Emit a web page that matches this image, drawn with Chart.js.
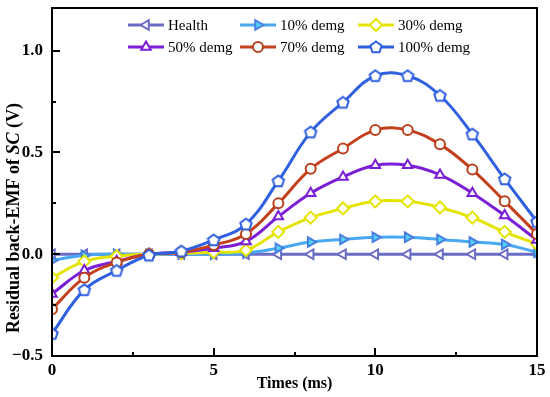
<!DOCTYPE html>
<html>
<head>
<meta charset="utf-8">
<script src="https://cdn.jsdelivr.net/npm/chart.js@4/dist/chart.umd.min.js"></script>
<style>
  html, body { margin: 0; padding: 0; background: #fff; }
  #wrap { width: 550px; height: 397px; }
</style>
</head>
<body>
<div id="wrap"><canvas id="emfChart" width="550" height="397"></canvas></div>
<script>
// data
const times = [0, 1, 2, 3, 4, 5, 6, 7, 8, 9, 10, 11, 12, 13, 14, 15];
const health = [0, 0, 0, 0, 0, 0, 0, 0, 0, 0, 0, 0, 0, 0, 0, 0];
const demg10 = [-0.03, -0.005, 0, 0, 0, 0, 0.005, 0.03, 0.06, 0.073, 0.083, 0.083, 0.073, 0.06, 0.048, 0.01];
const demg30 = [-0.115, -0.035, -0.01, 0, 0.005, 0.01, 0.02, 0.11, 0.18, 0.225, 0.26, 0.26, 0.23, 0.18, 0.11, 0.05];
const demg50 = [-0.195, -0.08, -0.035, 0, 0.01, 0.03, 0.063, 0.185, 0.30, 0.38, 0.437, 0.437, 0.39, 0.30, 0.19, 0.07];
const demg70 = [-0.27, -0.115, -0.04, 0, 0.01, 0.045, 0.10, 0.25, 0.42, 0.52, 0.61, 0.61, 0.54, 0.416, 0.26, 0.10];
const demg100 = [-0.39, -0.175, -0.08, -0.005, 0.015, 0.07, 0.148, 0.36, 0.60, 0.746, 0.877, 0.877, 0.78, 0.59, 0.37, 0.16];
const seriesNames = ['Health', '10% demg', '30% demg', '50% demg', '70% demg', '100% demg'];
const xTicks = [0, 5, 10, 15];
const xMinorTicks = [2.5, 7.5, 12.5];
const yTicks = [-0.5, 0, 0.5, 1.0];
const yMinorTicks = [-0.25, 0.25, 0.75];

const serif = '"Liberation Serif", "Times New Roman", serif';

function makePentagon(color) {
    const c = document.createElement('canvas');
    c.width = 16;
    c.height = 16;
    const g = c.getContext('2d');
    g.beginPath();
    for (let i = 0; i < 5; i++) {
        const a = -Math.PI / 2 + i * 2 * Math.PI / 5;
        g.lineTo(8 + 6 * Math.cos(a), 8.5 + 6 * Math.sin(a));
    }
    g.closePath();
    g.fillStyle = '#fff';
    g.fill();
    g.lineWidth = 2;
    g.strokeStyle = color;
    g.stroke();
    return c;
}

function series(label, values, color, style, extra) {
    return Object.assign({
        label: label,
        data: values.map((v, i) => ({ x: times[i], y: v })),
        borderColor: color,
        borderWidth: 3,
        tension: 0.4,
        pointStyle: style,
        pointRadius: 5.5,
        pointBorderWidth: 2,
        pointBorderColor: color,
        pointBackgroundColor: '#fff'
    }, extra || {});
}

const datasets = [
    series(seriesNames[0], health, '#6a6cc4', 'triangle', { pointRotation: -90, order: 5 }),
    series(seriesNames[1], demg10, '#48a8f2', 'triangle', { pointRotation: 90, pointBorderColor: '#4a7fe0', pointBackgroundColor: '#52d2f4', order: 4 }),
    series(seriesNames[2], demg30, '#e4e400', 'rectRot', { pointRadius: 6, order: 3 }),
    series(seriesNames[3], demg50, '#7b1fd6', 'triangle', { order: 2 }),
    series(seriesNames[4], demg70, '#c4401c', 'circle', { pointRadius: 5, pointBorderColor: '#b8401c', order: 1 }),
    series(seriesNames[5], demg100, '#2f60e0', makePentagon('#2f60e0'), { order: 0 })
];

// frame, inward ticks, legend and y title
const decorPlugin = {
    id: 'decor',
    afterDraw(chart) {
        const ctx = chart.ctx;
        const a = chart.chartArea;
        const xs = chart.scales.x;
        const ys = chart.scales.y;
        ctx.save();
        ctx.strokeStyle = '#000';
        ctx.lineWidth = 2;
        ctx.strokeRect(a.left, a.top, a.right - a.left, a.bottom - a.top);
        ctx.beginPath();
        xTicks.forEach(v => { const p = Math.round(xs.getPixelForValue(v)); ctx.moveTo(p, a.bottom); ctx.lineTo(p, a.bottom - 8); });
        xMinorTicks.forEach(v => { const p = Math.round(xs.getPixelForValue(v)); ctx.moveTo(p, a.bottom); ctx.lineTo(p, a.bottom - 4); });
        yTicks.forEach(v => { const p = Math.round(ys.getPixelForValue(v)); ctx.moveTo(a.left, p); ctx.lineTo(a.left + 8, p); });
        yMinorTicks.forEach(v => { const p = Math.round(ys.getPixelForValue(v)); ctx.moveTo(a.left, p); ctx.lineTo(a.left + 4, p); });
        ctx.stroke();

        // legend
        const cols = [128, 240, 358];
        const rows = [25, 47];
        ctx.font = '15px ' + serif;
        ctx.textBaseline = 'middle';
        ctx.textAlign = 'left';
        chart.data.datasets.forEach((ds, i) => {
            const x = cols[i % 3];
            const y = rows[Math.floor(i / 3)];
            ctx.strokeStyle = ds.borderColor;
            ctx.lineWidth = 3;
            ctx.beginPath();
            ctx.moveTo(x, y);
            ctx.lineTo(x + 36, y);
            ctx.stroke();
            ctx.fillStyle = ds.pointBackgroundColor;
            ctx.strokeStyle = ds.pointBorderColor;
            ctx.lineWidth = 2;
            Chart.helpers.drawPoint(ctx, {
                pointStyle: ds.pointStyle,
                rotation: ds.pointRotation || 0,
                radius: ds.pointRadius,
                borderWidth: 2
            }, x + 18, y);
            ctx.fillStyle = '#000';
            ctx.fillText(ds.label, x + 40, y + 1);
        });

        // y axis title with italic SC
        const parts = [
            ['bold 18px ' + serif, 'Residual back-EMF of '],
            ['italic bold 18px ' + serif, 'SC'],
            ['bold 18px ' + serif, ' (V)']
        ];
        let total = 0;
        ctx.textBaseline = 'alphabetic';
        parts.forEach(p => { ctx.font = p[0]; total += ctx.measureText(p[1]).width; });
        ctx.translate(19, 218);
        ctx.rotate(-Math.PI / 2);
        let cx = -total / 2;
        ctx.fillStyle = '#000';
        parts.forEach(p => { ctx.font = p[0]; ctx.fillText(p[1], cx, 0); cx += ctx.measureText(p[1]).width; });
        ctx.restore();
    }
};

function drawChart() {
    const ctx = document.getElementById('emfChart');
    new Chart(ctx, {
        type: 'line',
        data: { datasets: datasets },
        options: {
            responsive: false,
            animation: false,
            layout: { padding: { top: 5, right: 13, left: 0, bottom: 0 } },
            plugins: { legend: { display: false }, tooltip: { enabled: false } },
            scales: {
                x: {
                    type: 'linear',
                    min: 0,
                    max: 15,
                    grid: { display: false, drawTicks: false },
                    border: { display: false },
                    afterBuildTicks: s => { s.ticks = xTicks.map(v => ({ value: v })); },
                    afterFit: s => { s.height = 41; s.paddingLeft = 0; s.paddingRight = 0; },
                    ticks: { color: '#000', padding: 4, font: { family: serif, size: 17, weight: 'bold' } },
                    title: { display: true, text: 'Times (ms)', color: '#000', padding: { top: 0, bottom: 4 }, font: { family: serif, size: 16, weight: 'bold' } }
                },
                y: {
                    min: -0.5,
                    max: 1.21,
                    grid: { display: false, drawTicks: false },
                    border: { display: false },
                    afterBuildTicks: s => { s.ticks = yTicks.map(v => ({ value: v })); },
                    afterFit: s => { s.width = 52; s.paddingTop = 0; s.paddingBottom = 0; },
                    ticks: {
                        color: '#000',
                        padding: 9,
                        font: { family: serif, size: 17, weight: 'bold' },
                        callback: v => (v < 0 ? '\u2212' + Math.abs(v).toFixed(1) : v.toFixed(1))
                    }
                }
            }
        },
        plugins: [decorPlugin]
    });
}

document.addEventListener('DOMContentLoaded', drawChart);
</script>
</body>
</html>
